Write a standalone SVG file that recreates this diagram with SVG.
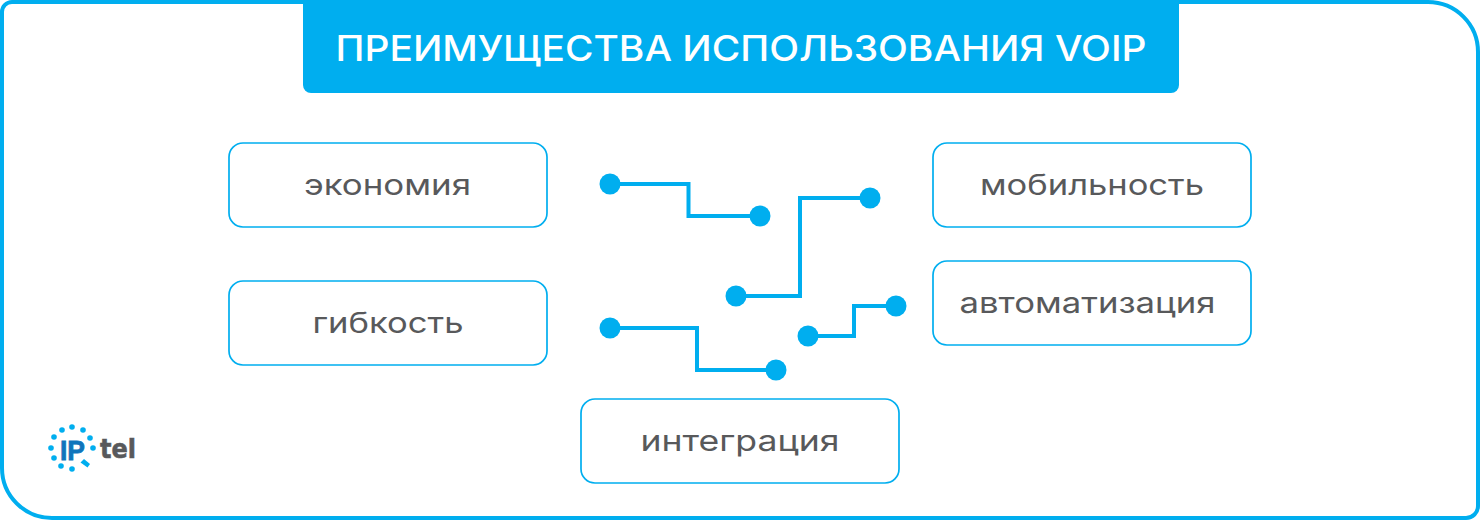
<svg xmlns="http://www.w3.org/2000/svg" width="1480" height="520" viewBox="0 0 1480 520">
<style>
.box{fill:#fff;stroke:#00aeef;stroke-width:1.700}
.lbl{font-family:"Inter","Liberation Sans",sans-serif;font-size:29px;fill:#58595b;text-anchor:middle}
.wire{fill:none;stroke:#00aeef;stroke-width:4}
.dot{fill:#00aeef}
</style>
<path d="M12 2H1428A50 50 0 0 1 1478 52V506A12 12 0 0 1 1466 518H52A50 50 0 0 1 2 468V12A10 10 0 0 1 12 2Z" fill="#fff" stroke="#00aeef" stroke-width="4"/>
<g id="title">
<path d="M303 0H1179V85a8 8 0 0 1-8 8H311a8 8 0 0 1-8-8Z" fill="#00aeef"/>
<text x="741" y="61" font-family="Inter,'Liberation Sans',sans-serif" font-size="35" font-weight="500" fill="#fff" text-anchor="middle" textLength="811" lengthAdjust="spacingAndGlyphs">ПРЕИМУЩЕСТВА ИСПОЛЬЗОВАНИЯ VOIP</text>
</g>
<g id="node-economy"><rect class="box" x="229" y="143" width="318" height="84" rx="14"/><text class="lbl" x="387.500" y="195" textLength="167" lengthAdjust="spacingAndGlyphs">экономия</text></g>
<g id="node-flex"><rect class="box" x="229" y="281" width="318" height="84" rx="14"/><text class="lbl" x="388" y="333" textLength="151" lengthAdjust="spacingAndGlyphs">гибкость</text></g>
<g id="node-mobile"><rect class="box" x="933" y="143" width="318" height="84" rx="14"/><text class="lbl" x="1092" y="195" textLength="224" lengthAdjust="spacingAndGlyphs">мобильность</text></g>
<g id="node-auto"><rect class="box" x="933" y="261" width="318" height="84" rx="14"/><text class="lbl" x="1087.500" y="313" textLength="256" lengthAdjust="spacingAndGlyphs">автоматизация</text></g>
<g id="node-integr"><rect class="box" x="581" y="399" width="318" height="84" rx="14"/><text class="lbl" x="740" y="451" textLength="199" lengthAdjust="spacingAndGlyphs">интеграция</text></g>
<g id="connectors">
<path class="wire" d="M610 184H688.500V216H760"/>
<circle class="dot" cx="610" cy="184" r="10.500"/><circle class="dot" cx="760" cy="216" r="10.500"/>
<path class="wire" d="M736 296H800V198H870"/>
<circle class="dot" cx="736" cy="296" r="10.500"/><circle class="dot" cx="870" cy="198" r="10.500"/>
<path class="wire" d="M610 328H697V370H776"/>
<circle class="dot" cx="610" cy="328" r="10.500"/><circle class="dot" cx="776" cy="370" r="10.500"/>
<path class="wire" d="M808 336H854V306H896"/>
<circle class="dot" cx="808" cy="336" r="10.500"/><circle class="dot" cx="896" cy="306" r="10.500"/>
</g>
<g id="logo">
<g fill="#00aeef">
<circle cx="72" cy="427" r="2.800"/><circle cx="62" cy="430" r="2.800"/><circle cx="83" cy="430" r="2.800"/><circle cx="54" cy="437" r="2.800"/><circle cx="90" cy="438" r="2.800"/><circle cx="51" cy="448" r="2.800"/><circle cx="93" cy="448" r="2.800"/><circle cx="54" cy="458" r="2.800"/><circle cx="61" cy="466" r="2.800"/><circle cx="72" cy="469" r="2.800"/>
<path d="M84 459l6 5-2.500 3.500-7-5z"/>
</g>
<text x="60" y="460" font-family="'Liberation Sans',sans-serif" font-size="28" font-weight="700" fill="#0f75bc" stroke="#0f75bc" stroke-width=".8" textLength="25" lengthAdjust="spacingAndGlyphs">IP</text>
<text x="100" y="458" font-family="'DejaVu Sans',sans-serif" font-size="27" font-weight="700" fill="#58595b" stroke="#58595b" stroke-width=".6" textLength="36" lengthAdjust="spacingAndGlyphs">tel</text>
</g>
</svg>
